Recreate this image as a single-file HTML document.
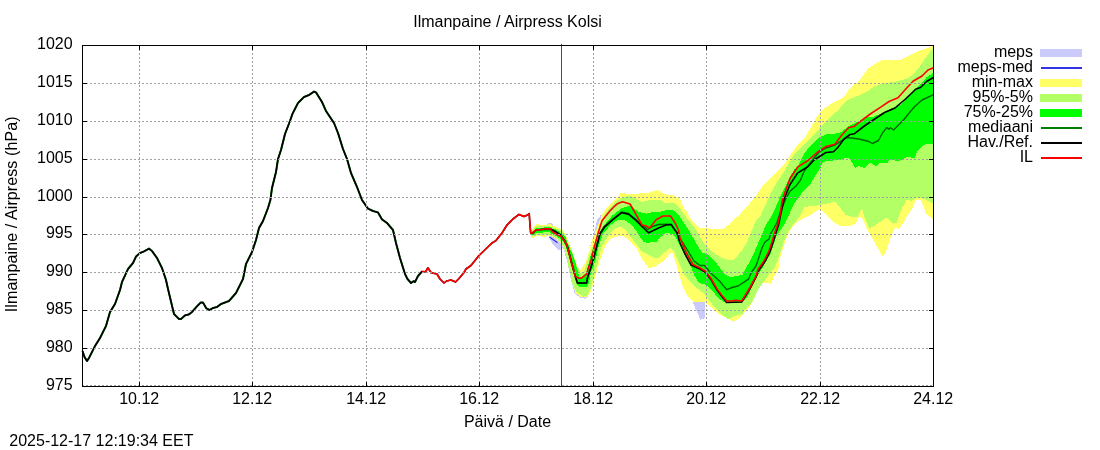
<!DOCTYPE html>
<html lang="fi"><head><meta charset="utf-8"><title>Ilmanpaine / Airpress Kolsi</title>
<style>html,body{margin:0;padding:0;background:#fff;}svg{display:block;}text{font-family:"Liberation Sans",Arial,sans-serif;font-size:16px;fill:#000;}</style>
</head><body>
<svg width="1100" height="450" viewBox="0 0 1100 450">
<rect x="0" y="0" width="1100" height="450" fill="#ffffff"/>
<g id="fills" shape-rendering="crispEdges">
<polygon points="547.5,224.5 548.5,223.0 552.0,223.0 553.5,225.5 556.0,237.0 561.0,244.0 564.0,250.0 567.3,262.0 570.5,278.0 574.7,293.5 580.5,298.0 585.0,298.6 588.0,297.0 584.0,290.0 577.0,270.0 570.0,245.0 560.0,232.0 550.0,236.0" fill="#cbcbfb"/>
<polygon points="548.5,236.0 551.0,241.5 555.0,247.0 558.0,249.5 562.0,250.5 563.0,246.0 558.0,239.0 553.0,235.0" fill="#cbcbfb"/>
<polygon points="590.0,247.0 593.0,238.0 597.0,220.0 601.2,214.5 602.5,216.0 598.0,232.0 594.0,247.0" fill="#cbcbfb"/>
<polygon points="693.0,302.2 705.0,302.5 704.7,318.2 700.5,319.7 696.0,310.0" fill="#cbcbfb"/>
</g>
<polyline points="549.5,237.0 553.0,239.5 557.5,242.8" fill="none" stroke="#3333e6" stroke-width="1.3" stroke-linejoin="round" stroke-linecap="butt" />
<g id="fills2" shape-rendering="crispEdges">
<polygon points="531.0,231.0 533.0,228.0 535.0,225.5 536.5,224.0 538.5,224.0 539.5,225.0 547.0,225.2 548.2,224.0 551.0,224.2 553.0,226.0 557.0,227.2 560.5,229.0 564.0,231.5 566.0,236.0 569.0,243.0 571.0,248.0 576.0,262.0 577.7,267.1 580.0,270.4 582.5,267.1 585.6,262.0 589.5,250.0 592.5,239.5 596.2,229.5 601.5,216.0 606.0,208.5 615.0,199.5 621.0,192.7 630.0,194.2 639.0,193.5 648.0,192.7 656.2,190.2 660.0,190.8 664.5,194.2 675.0,195.7 680.2,199.5 684.0,208.5 686.1,210.0 688.6,215.1 691.7,220.2 695.8,224.8 699.4,228.1 710.7,228.6 718.9,228.8 722.9,228.6 726.0,226.5 729.1,225.0 733.5,220.2 737.0,217.0 740.0,214.2 744.0,209.5 750.0,203.0 757.0,194.0 762.0,187.0 770.0,178.0 778.0,170.0 784.0,165.0 790.0,155.5 797.5,145.0 805.0,137.5 811.0,127.0 817.0,116.5 823.0,109.0 830.5,104.5 835.0,102.2 844.0,97.0 850.0,88.0 859.0,80.5 868.0,68.5 877.0,62.5 884.5,59.5 899.5,60.2 910.0,55.0 920.5,50.5 933.5,46.0 933.5,219.7 925.7,213.7 923.5,205.5 920.5,200.2 916.0,200.2 911.5,210.0 905.5,219.0 899.5,228.7 895.0,228.0 892.0,234.0 887.5,247.5 883.0,257.2 874.0,241.5 868.0,231.0 863.5,220.5 859.7,216.0 856.0,223.5 850.0,225.7 841.0,226.5 833.5,222.0 826.0,214.5 820.0,208.5 812.5,213.7 805.0,217.5 797.5,222.0 791.5,228.0 787.0,237.0 783.7,246.5 780.0,258.5 778.5,269.5 774.0,277.0 771.0,283.7 762.0,283.0 759.0,287.5 754.5,298.0 750.0,306.2 744.0,313.0 738.0,319.0 733.5,322.0 726.0,317.5 718.5,313.7 711.0,307.0 705.0,302.5 693.0,301.7 687.0,295.0 682.5,286.0 679.5,275.5 677.0,267.0 675.0,260.0 673.0,254.0 672.0,252.5 670.0,253.2 666.0,259.0 660.0,263.5 654.0,267.2 648.7,268.0 642.0,259.0 636.0,247.5 632.0,244.0 629.0,240.5 625.5,237.7 621.0,235.5 615.0,237.0 609.0,240.0 607.5,241.7 604.5,248.5 600.0,260.5 597.0,271.0 594.0,281.0 591.0,291.0 588.0,296.0 584.2,297.5 580.5,296.7 575.5,293.0 571.3,278.0 568.3,265.0 566.0,255.0 563.5,247.0 560.0,242.0 556.0,238.5 552.0,236.5 548.0,235.5 546.0,236.5 541.0,236.5 538.0,235.5 536.0,236.0 533.5,238.0 531.0,238.0" fill="#ffff66"/>
<polygon points="532.0,231.5 536.0,226.0 547.0,226.0 550.0,226.7 553.0,227.5 556.0,228.5 560.0,230.0 563.0,231.5 565.5,236.0 568.0,243.0 572.3,252.0 575.6,262.0 577.1,267.1 580.4,272.7 583.5,272.2 585.6,267.1 588.0,260.0 591.0,250.0 594.0,245.0 599.2,225.0 606.0,212.2 615.0,202.5 619.5,198.7 625.5,196.5 630.0,195.7 636.0,198.7 642.0,202.2 651.0,199.5 660.0,200.2 664.5,202.5 675.0,203.2 678.0,206.2 681.0,210.0 684.5,215.1 688.6,220.2 692.8,225.0 696.4,230.1 699.4,236.2 702.5,241.4 707.6,247.5 713.0,252.0 720.0,257.0 727.0,259.5 733.0,260.5 738.0,255.0 743.0,249.0 747.0,242.0 750.0,235.0 753.0,228.0 756.0,221.0 760.0,216.7 766.0,204.0 770.5,193.5 776.5,183.0 782.5,174.0 787.0,166.5 794.5,154.0 802.0,146.5 809.5,139.0 817.0,131.5 824.5,122.5 832.0,115.0 838.0,110.5 841.0,106.7 848.5,99.5 859.0,95.5 868.0,91.0 874.0,86.5 883.0,83.5 898.0,81.2 908.5,78.2 914.5,73.0 920.5,65.5 926.5,56.5 931.0,50.5 933.5,48.0 933.5,204.0 925.0,199.5 919.0,197.2 916.0,198.0 911.5,201.0 907.0,199.5 901.0,210.0 896.5,222.7 893.5,223.5 886.7,217.5 877.0,224.2 869.5,228.7 865.0,219.0 862.0,208.5 857.5,216.7 851.5,216.7 845.5,214.5 839.5,207.0 835.0,201.7 824.5,204.0 814.0,206.2 805.0,206.7 802.0,211.5 799.0,217.5 794.5,223.0 790.5,228.0 787.5,233.0 784.5,240.0 782.5,246.0 780.0,254.0 777.0,262.0 774.0,269.5 771.0,271.2 765.0,280.0 760.5,286.0 756.0,293.5 751.5,302.5 745.5,308.5 742.5,313.7 735.0,316.0 727.5,319.0 723.0,315.2 717.0,310.0 709.5,301.0 703.5,293.0 697.5,288.5 690.0,282.0 684.0,274.0 680.0,265.0 677.0,258.0 674.0,251.0 670.0,248.0 664.5,252.5 658.5,258.2 654.0,257.5 648.0,254.5 642.0,251.5 637.0,245.0 633.0,240.0 630.0,237.0 627.0,231.7 624.0,228.0 618.0,226.5 612.0,231.0 606.0,239.5 601.5,247.0 597.7,263.5 593.2,278.5 590.2,290.0 587.2,295.8 583.5,296.5 576.5,292.2 572.5,284.0 568.8,268.0 566.0,254.0 563.5,246.0 560.0,241.0 556.0,238.0 552.0,236.0 550.0,235.0 541.0,234.7 537.0,234.7 535.0,236.0 531.0,236.5" fill="#b2ff66"/>
<polygon points="532.0,232.2 536.0,228.5 542.5,228.0 546.0,226.7 550.5,226.7 552.0,228.5 556.0,229.5 558.0,231.0 561.0,233.0 564.0,235.0 565.5,237.0 568.0,244.0 572.0,253.0 575.3,262.0 576.6,267.1 579.5,277.5 583.0,278.0 586.5,272.0 589.0,262.0 592.0,251.0 594.7,246.7 598.0,238.0 601.5,231.5 604.5,227.0 606.6,221.9 612.7,215.2 620.9,208.6 625.5,206.8 630.0,205.8 633.0,207.7 639.0,212.2 646.5,213.7 654.0,211.5 660.0,211.8 667.5,210.0 672.8,210.0 677.9,214.1 682.0,220.2 685.6,225.3 688.7,230.1 692.3,236.2 695.5,241.8 699.3,248.5 702.0,252.5 707.0,254.0 712.0,259.0 717.0,264.0 721.0,269.5 724.5,274.0 730.5,277.2 736.5,276.0 742.5,274.7 745.0,269.5 749.0,263.0 753.0,255.0 757.0,246.0 760.0,239.0 763.0,232.0 766.0,225.0 769.5,219.0 771.2,216.7 776.5,205.5 781.0,195.0 785.5,186.0 790.0,177.0 794.5,169.5 797.5,166.7 805.0,152.5 812.5,143.5 818.5,137.5 826.0,134.5 835.0,133.7 841.0,132.2 848.5,126.2 859.0,121.0 866.5,117.2 874.0,116.5 880.0,114.0 890.0,109.0 900.0,105.0 907.0,98.5 914.5,89.5 922.0,82.5 926.5,77.5 933.5,72.5 933.5,143.5 927.0,143.5 922.0,146.0 917.0,152.0 915.0,158.0 907.0,157.0 898.0,161.5 890.0,159.0 887.0,163.5 880.0,163.0 876.5,165.8 875.0,165.5 870.0,162.5 864.0,168.0 859.0,166.0 855.0,168.0 853.0,164.0 850.0,159.5 847.0,157.5 840.0,160.0 826.0,161.0 822.0,163.0 820.5,168.0 815.5,175.5 811.0,183.0 805.0,189.0 799.0,196.5 793.0,205.5 789.0,215.0 784.0,225.0 777.0,235.0 773.5,245.0 770.0,255.0 764.0,265.0 761.5,269.5 757.0,277.0 755.5,280.0 753.0,284.5 750.0,291.5 747.0,297.5 742.5,302.5 735.0,303.0 727.5,303.3 723.0,301.8 717.0,296.5 711.0,289.0 705.0,284.5 699.0,283.0 694.5,275.5 691.0,267.0 687.0,259.0 683.0,252.0 679.0,244.0 675.0,236.0 672.0,233.7 666.0,233.0 660.0,237.5 656.2,242.2 652.5,241.7 648.0,243.2 643.5,241.5 640.5,238.0 636.0,230.2 630.0,223.5 624.0,219.7 618.0,219.7 610.5,225.0 603.0,234.0 598.5,247.0 595.5,260.5 591.0,272.5 588.7,284.0 587.0,287.3 580.0,287.3 577.5,284.5 573.0,272.0 569.0,257.0 566.0,247.0 563.0,241.5 560.0,238.5 556.0,236.2 551.0,233.5 549.5,232.3 542.5,232.5 536.0,232.7 534.0,234.5 532.5,234.8" fill="#00ff00"/>
</g><g id="lines">
<polyline points="82.5,351.0 84.5,357.0 87.0,361.0 89.0,358.0 95.0,346.0 100.0,338.0 106.0,326.0 110.0,312.0 115.0,304.0 120.0,290.0 122.0,282.0 128.0,269.0 133.0,263.0 136.0,256.6 140.0,253.0 144.0,251.4 149.0,248.6 152.0,251.0 157.0,258.0 162.0,268.0 166.0,280.0 168.0,289.0 174.0,314.0 179.0,319.0 181.0,319.0 185.0,315.4 189.0,314.4 192.0,312.0 196.0,307.4 200.6,302.6 203.0,302.6 206.4,308.4 209.6,310.0 213.0,308.0 217.0,307.0 221.0,304.0 229.0,301.0 232.5,297.0 236.0,293.0 240.0,285.0 243.0,279.0 246.0,264.0 252.0,252.0 256.0,240.0 259.0,228.0 263.0,221.0 268.0,208.0 270.4,200.0 272.0,188.0 276.0,172.0 278.0,159.0 281.0,150.0 285.0,134.0 290.0,121.0 292.4,114.0 298.0,103.0 304.0,97.0 309.0,95.0 314.0,91.6 316.0,92.4 322.0,102.0 326.0,111.0 334.0,123.0 338.0,133.0 343.0,149.0 347.0,159.0 351.0,173.0 357.0,187.0 362.0,200.0 368.0,208.6 373.0,211.0 378.0,212.4 382.0,219.4 387.0,223.0 393.0,230.0 396.0,243.0 400.0,258.0 405.0,274.0 407.5,279.0 411.0,283.0 413.5,281.2 415.0,282.0 418.0,276.0 422.0,271.5" fill="none" stroke="#006400" stroke-width="2.0" stroke-linejoin="round" stroke-linecap="butt" />
<polyline points="532.0,233.0 536.0,230.0 543.0,229.5 551.0,229.5 556.0,232.0 561.0,235.5 565.0,241.0 567.5,247.0 571.4,262.0 575.6,277.5 577.4,283.0 586.6,283.0 587.6,277.3 592.7,262.0 597.0,245.0 600.0,233.0 604.5,226.0 612.0,219.5 621.7,212.0 628.5,213.5 636.0,219.5 643.5,226.5 648.0,229.5 652.5,226.5 658.5,224.5 666.0,224.2 671.2,224.5 675.0,230.0 678.0,235.0 683.0,243.0 688.0,251.0 694.0,261.0 700.0,265.5 704.5,265.5 706.5,268.0 711.0,273.2 720.0,281.5 726.7,289.7 732.0,287.5 738.0,286.0 744.0,282.2 748.5,279.2 751.5,272.0 756.0,266.0 759.0,257.0 762.0,248.0 765.0,242.0 769.0,239.0 771.0,233.0 774.0,228.0 777.0,222.5 781.0,210.0 785.5,199.5 790.0,191.2 796.0,186.0 800.5,180.0 804.2,171.0 811.0,162.0 818.5,152.5 826.0,148.0 835.0,145.0 841.0,141.2 847.0,137.5 859.0,139.0 868.0,141.2 872.5,143.5 878.5,140.5 883.0,132.2 886.7,127.7 889.0,129.2 890.5,127.7 893.5,130.0 899.5,124.0 904.0,119.5 910.0,112.0 914.5,106.7 922.0,100.0 933.5,94.7" fill="none" stroke="#006400" stroke-width="1.4" stroke-linejoin="round" stroke-linecap="butt" />
<polyline points="82.5,351.0 84.5,357.0 87.0,361.0 89.0,358.0 95.0,346.0 100.0,338.0 106.0,326.0 110.0,312.0 115.0,304.0 120.0,290.0 122.0,282.0 128.0,269.0 133.0,263.0 136.0,256.6 140.0,253.0 144.0,251.4 149.0,248.6 152.0,251.0 157.0,258.0 162.0,268.0 166.0,280.0 168.0,289.0 174.0,314.0 179.0,319.0 181.0,319.0 185.0,315.4 189.0,314.4 192.0,312.0 196.0,307.4 200.6,302.6 203.0,302.6 206.4,308.4 209.6,310.0 213.0,308.0 217.0,307.0 221.0,304.0 229.0,301.0 232.5,297.0 236.0,293.0 240.0,285.0 243.0,279.0 246.0,264.0 252.0,252.0 256.0,240.0 259.0,228.0 263.0,221.0 268.0,208.0 270.4,200.0 272.0,188.0 276.0,172.0 278.0,159.0 281.0,150.0 285.0,134.0 290.0,121.0 292.4,114.0 298.0,103.0 304.0,97.0 309.0,95.0 314.0,91.6 316.0,92.4 322.0,102.0 326.0,111.0 334.0,123.0 338.0,133.0 343.0,149.0 347.0,159.0 351.0,173.0 357.0,187.0 362.0,200.0 368.0,208.6 373.0,211.0 378.0,212.4 382.0,219.4 387.0,223.0 393.0,230.0 396.0,243.0 400.0,258.0 405.0,274.0 407.5,279.0 411.0,283.0 413.5,281.2 415.0,282.0 418.0,276.0 422.0,271.5 425.5,271.8 427.8,267.8 431.2,272.8 437.0,274.0 440.0,279.0 444.0,283.0 446.5,281.0 451.0,280.0 455.5,282.0 459.0,278.5 464.0,272.5 466.0,269.0 471.0,265.5 479.0,255.5 492.0,243.0 496.0,240.6 502.0,233.0 507.0,225.0 513.0,219.0 519.0,214.4 524.0,216.6 527.5,215.0 529.2,213.5 530.0,225.0 530.7,233.0 531.0,233.0 532.5,233.5 536.0,230.0 543.0,229.3 551.0,229.2 556.0,232.0 560.0,234.5 562.5,238.0 565.0,241.5 567.3,246.2 571.4,262.0 575.6,277.5 577.4,283.0 586.6,283.0 587.6,277.3 589.7,271.2 592.7,262.0 597.0,245.5 600.0,234.0 604.5,227.2 612.0,220.5 621.7,212.7 628.5,214.2 636.0,220.5 643.5,228.0 648.7,232.8 658.5,228.0 666.0,225.0 671.2,224.5 675.0,230.2 677.0,232.5 680.0,243.0 685.0,254.0 691.0,265.0 700.0,269.0 705.0,272.0 711.0,279.5 717.0,290.0 721.5,296.0 726.7,302.5 741.7,302.0 745.5,296.0 750.0,288.5 756.0,277.2 759.0,270.0 765.0,261.5 770.0,251.5 773.0,242.5 776.0,232.5 778.5,225.0 780.2,216.7 784.0,199.5 790.0,184.5 797.5,173.2 808.0,166.5 814.0,160.0 826.0,152.5 833.5,151.7 838.0,147.2 844.0,139.0 850.0,134.5 854.5,133.7 865.0,125.5 874.0,119.5 884.5,112.5 895.0,108.0 905.5,99.0 916.0,89.0 920.5,87.5 926.5,81.5 933.5,77.5" fill="none" stroke="#000000" stroke-width="1.6" stroke-linejoin="round" stroke-linecap="butt" />
<polyline points="422.0,271.5 425.5,271.8 427.8,267.8 431.2,272.8 437.0,274.0 440.0,279.0 444.0,283.0 446.5,281.0 451.0,280.0 455.5,282.0 459.0,278.5 464.0,272.5 466.0,269.0 471.0,265.5 479.0,255.5 492.0,243.0 496.0,240.6 502.0,233.0 507.0,225.0 513.0,219.0 519.0,214.4 524.0,216.6 527.5,215.0 529.2,213.5 530.0,225.0 530.7,233.0 532.0,233.2 536.0,229.9 542.5,229.5 543.0,228.9 550.5,228.9 551.5,231.0 556.0,234.0 561.0,236.5 564.5,241.0 567.0,245.5 571.2,262.0 575.3,276.3 577.9,277.9 581.5,278.1 586.6,273.8 588.6,267.1 590.7,262.0 594.3,247.0 598.8,231.0 599.9,227.5 602.0,220.8 605.6,216.2 610.7,210.1 615.8,205.0 618.5,203.2 622.5,201.7 630.0,204.0 636.0,214.5 642.0,225.0 645.7,225.7 649.5,228.0 656.2,219.7 663.0,216.0 670.5,216.0 675.0,222.7 678.5,230.0 680.0,238.0 683.0,245.0 687.0,254.0 693.0,264.5 700.0,268.0 705.0,271.0 711.0,278.5 717.0,289.0 721.5,295.0 726.7,301.0 732.0,301.0 735.7,300.2 741.7,301.0 745.5,295.0 750.0,287.5 756.0,276.2 758.0,269.5 764.0,261.0 769.0,251.0 772.0,242.0 775.0,232.0 777.5,225.0 780.0,215.0 782.5,199.5 786.2,189.0 790.0,178.5 797.5,167.2 808.0,160.5 817.0,152.5 826.0,146.5 835.0,144.2 841.0,136.0 848.5,127.7 854.5,126.2 862.0,120.2 871.0,113.5 881.5,106.7 889.0,101.5 898.0,97.7 904.0,91.0 913.0,81.2 922.0,76.0 928.0,70.0 933.5,67.7" fill="none" stroke="#ff0000" stroke-width="1.6" stroke-linejoin="round" stroke-linecap="butt" />
<line x1="561.5" y1="44" x2="561.5" y2="386" stroke="#ff0000" stroke-width="1"/>
</g>
<g stroke="#a0a0a0" stroke-width="1" stroke-dasharray="2 2" fill="none">
<line x1="139.5" y1="45" x2="139.5" y2="387"/>
<line x1="252.5" y1="45" x2="252.5" y2="387"/>
<line x1="366.5" y1="45" x2="366.5" y2="387"/>
<line x1="479.5" y1="45" x2="479.5" y2="387"/>
<line x1="593.5" y1="45" x2="593.5" y2="387"/>
<line x1="706.5" y1="45" x2="706.5" y2="387"/>
<line x1="820.5" y1="45" x2="820.5" y2="387"/>
<line x1="82" y1="83.5" x2="934" y2="83.5"/>
<line x1="82" y1="121.5" x2="934" y2="121.5"/>
<line x1="82" y1="159.5" x2="934" y2="159.5"/>
<line x1="82" y1="197.5" x2="934" y2="197.5"/>
<line x1="82" y1="234.5" x2="934" y2="234.5"/>
<line x1="82" y1="272.5" x2="934" y2="272.5"/>
<line x1="82" y1="310.5" x2="934" y2="310.5"/>
<line x1="82" y1="348.5" x2="934" y2="348.5"/>
<line x1="82" y1="385.5" x2="934" y2="385.5"/>
</g>
<g stroke="#000" stroke-width="1" fill="none">
<rect x="82.5" y="45.5" width="851.0" height="341.0"/>
<line x1="139.5" y1="386.5" x2="139.5" y2="382.0"/>
<line x1="139.5" y1="45.5" x2="139.5" y2="50.0"/>
<line x1="252.5" y1="386.5" x2="252.5" y2="382.0"/>
<line x1="252.5" y1="45.5" x2="252.5" y2="50.0"/>
<line x1="366.5" y1="386.5" x2="366.5" y2="382.0"/>
<line x1="366.5" y1="45.5" x2="366.5" y2="50.0"/>
<line x1="479.5" y1="386.5" x2="479.5" y2="382.0"/>
<line x1="479.5" y1="45.5" x2="479.5" y2="50.0"/>
<line x1="593.5" y1="386.5" x2="593.5" y2="382.0"/>
<line x1="593.5" y1="45.5" x2="593.5" y2="50.0"/>
<line x1="706.5" y1="386.5" x2="706.5" y2="382.0"/>
<line x1="706.5" y1="45.5" x2="706.5" y2="50.0"/>
<line x1="820.5" y1="386.5" x2="820.5" y2="382.0"/>
<line x1="820.5" y1="45.5" x2="820.5" y2="50.0"/>
<line x1="82.5" y1="83.5" x2="87.0" y2="83.5"/>
<line x1="933.5" y1="83.5" x2="929.0" y2="83.5"/>
<line x1="82.5" y1="121.5" x2="87.0" y2="121.5"/>
<line x1="933.5" y1="121.5" x2="929.0" y2="121.5"/>
<line x1="82.5" y1="159.5" x2="87.0" y2="159.5"/>
<line x1="933.5" y1="159.5" x2="929.0" y2="159.5"/>
<line x1="82.5" y1="197.5" x2="87.0" y2="197.5"/>
<line x1="933.5" y1="197.5" x2="929.0" y2="197.5"/>
<line x1="82.5" y1="234.5" x2="87.0" y2="234.5"/>
<line x1="933.5" y1="234.5" x2="929.0" y2="234.5"/>
<line x1="82.5" y1="272.5" x2="87.0" y2="272.5"/>
<line x1="933.5" y1="272.5" x2="929.0" y2="272.5"/>
<line x1="82.5" y1="310.5" x2="87.0" y2="310.5"/>
<line x1="933.5" y1="310.5" x2="929.0" y2="310.5"/>
<line x1="82.5" y1="348.5" x2="87.0" y2="348.5"/>
<line x1="933.5" y1="348.5" x2="929.0" y2="348.5"/>
</g>
<g text-anchor="end">
<text x="72.6" y="49.1">1020</text>
<text x="72.6" y="87.1">1015</text>
<text x="72.6" y="125.1">1010</text>
<text x="72.6" y="163.1">1005</text>
<text x="72.6" y="201.1">1000</text>
<text x="72.6" y="238.1">995</text>
<text x="72.6" y="276.1">990</text>
<text x="72.6" y="314.1">985</text>
<text x="72.6" y="352.1">980</text>
<text x="72.6" y="390.1">975</text>
</g>
<g text-anchor="middle">
<text x="139.2" y="404.4">10.12</text>
<text x="252.2" y="404.4">12.12</text>
<text x="366.2" y="404.4">14.12</text>
<text x="479.2" y="404.4">16.12</text>
<text x="593.2" y="404.4">18.12</text>
<text x="706.2" y="404.4">20.12</text>
<text x="820.2" y="404.4">22.12</text>
<text x="933.2" y="404.4">24.12</text>
<text x="507.5" y="26.6">Ilmanpaine / Airpress Kolsi</text>
<text x="507.5" y="426.6">Päivä / Date</text>
<text transform="translate(17.2,214.3) rotate(-90)" x="0" y="0" textLength="195.8" lengthAdjust="spacing">Ilmanpaine / Airpress (hPa)</text>
</g>
<text x="9.3" y="446">2025-12-17 12:19:34 EET</text>
<g text-anchor="end">
<text x="1033" y="57.0">meps</text>
<text x="1033" y="72.0">meps-med</text>
<text x="1033" y="87.0">min-max</text>
<text x="1033" y="102.0">95%-5%</text>
<text x="1033" y="117.0">75%-25%</text>
<text x="1033" y="132.0">mediaani</text>
<text x="1033" y="147.0">Hav./Ref.</text>
<text x="1033" y="162.0">IL</text>
</g>
<rect x="1040" y="49" width="42" height="8" fill="#cbcbfb"/>
<rect x="1040" y="79" width="42" height="8" fill="#ffff66"/>
<rect x="1040" y="94" width="42" height="8" fill="#b2ff66"/>
<rect x="1040" y="109" width="42" height="8" fill="#00ff00"/>
<line x1="1041" y1="68" x2="1082" y2="68" stroke="#3333e6" stroke-width="2"/>
<line x1="1041" y1="128" x2="1082" y2="128" stroke="#008000" stroke-width="2"/>
<line x1="1041" y1="143" x2="1082" y2="143" stroke="#000" stroke-width="2"/>
<line x1="1041" y1="158" x2="1082" y2="158" stroke="#ff0000" stroke-width="2"/>
</svg>
</body></html>
